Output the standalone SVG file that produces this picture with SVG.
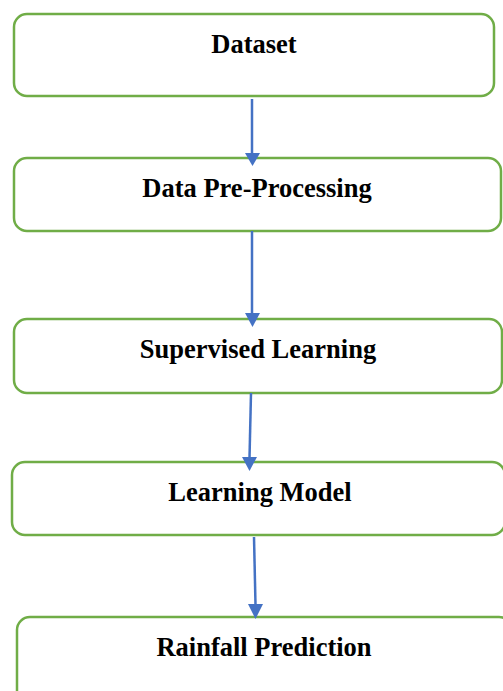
<svg xmlns="http://www.w3.org/2000/svg" width="503" height="691" viewBox="0 0 503 691">
<style>
.box{fill:#fff;stroke:#70AD47;stroke-width:2.5}
.lbl{font-family:"Liberation Serif","Times New Roman",serif;font-weight:bold;font-size:26.5px;fill:#000;text-anchor:middle}
.con{stroke:#4472C4;stroke-width:2.5;fill:none}
.head{fill:#4472C4}
</style>
<rect width="503" height="691" fill="#fff"/>
<g id="n1"><rect class="box" x="14" y="14" width="480" height="82" rx="13"/><text class="lbl" x="254" y="53">Dataset</text></g>
<g id="n2"><rect class="box" x="14" y="158" width="487" height="73" rx="13"/><text class="lbl" x="257" y="197">Data Pre-Processing</text></g>
<g id="n3"><rect class="box" x="14" y="319" width="488" height="74" rx="13"/><text class="lbl" x="258" y="358">Supervised Learning</text></g>
<g id="n4"><rect class="box" x="12" y="462" width="493" height="73" rx="13"/><text class="lbl" x="260" y="501">Learning Model</text></g>
<g id="n5"><rect class="box" x="17" y="617" width="495" height="90" rx="13"/><text class="lbl" x="264" y="656">Rainfall Prediction</text></g>
<g id="connectors">
<line class="con" x1="252" y1="99" x2="252" y2="154"/><polygon class="head" points="245,153 260,153 252.5,166"/>
<line class="con" x1="252" y1="231" x2="252" y2="314"/><polygon class="head" points="245,313 260,313 252.5,327"/>
<line class="con" x1="251" y1="393" x2="249.5" y2="458"/><polygon class="head" points="242,457 257,457 249.5,471"/>
<line class="con" x1="254" y1="537" x2="255.5" y2="605"/><polygon class="head" points="248,604 263,604 255.5,619"/>
</g>
</svg>
